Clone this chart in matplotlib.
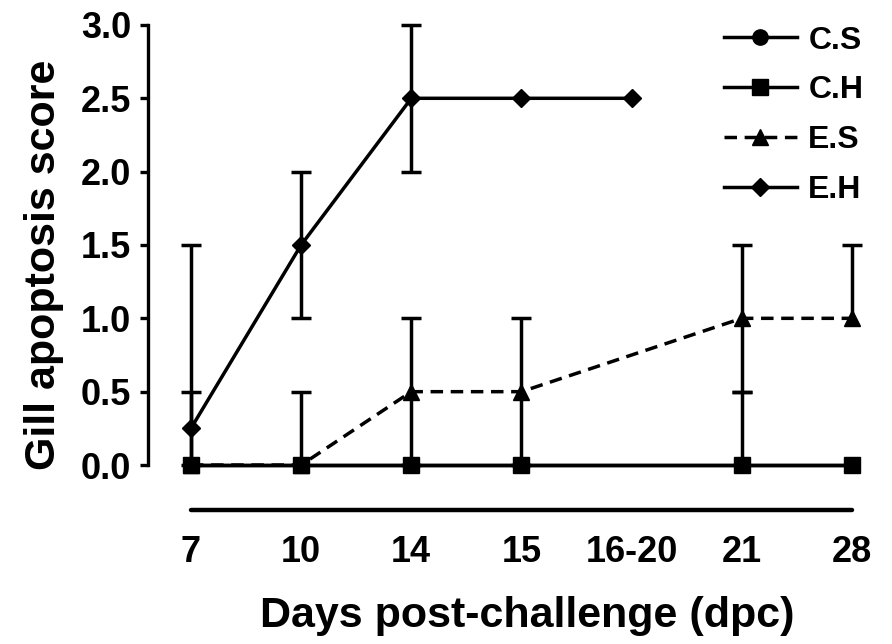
import numpy as np
import matplotlib
matplotlib.use("Agg")
import matplotlib.pyplot as plt

# categories on the x axis
days = ["7", "10", "14", "15", "16-20", "21", "28"]

# mean scores (nan = no point at that day)
cs_mean = [0, 0, 0, 0, np.nan, 0, 0]
ch_mean = [0, 0, 0, 0, np.nan, 0, 0]
es_mean = [0, 0, 0.5, 0.5, np.nan, 1.0, 1.0]
eh_mean = [0.25, 1.5, 2.5, 2.5, 2.5, np.nan, np.nan]

# error bars (lower, upper)
ch_lo = [0, 0, 0, 0, 0, 0, 0]
ch_up = [0, 0, 0, 0, 0, 0.5, 0]
es_lo = [0, 0, 0.5, 0.5, 0, 0.5, 0]
es_up = [0.5, 0.5, 0.5, 0.5, 0, 0.5, 0.5]
eh_lo = [0.25, 0.5, 0.5, 0, 0, 0, 0]
eh_up = [1.25, 0.5, 0.5, 0, 0, 0, 0]

plt.rcParams['font.family'] = ['Liberation Sans', 'DejaVu Sans']
plt.rcParams['font.weight'] = 'bold'

LW = 2.5


def draw(ax, x, y, lo, up, marker, ms, ls):
    y = np.asarray(y, dtype=float)
    m = ~np.isnan(y)
    line, = ax.plot(x[m], y[m], color='black', lw=LW, ls=ls, marker=marker,
                    ms=ms, mfc='black', mec='black', zorder=3)
    if lo is not None:
        lo = np.asarray(lo, dtype=float)
        up = np.asarray(up, dtype=float)
        k = m & ((lo > 0) | (up > 0))
        ax.errorbar(x[k], y[k], yerr=[lo[k], up[k]], fmt='none', ecolor='black',
                    elinewidth=LW, capsize=0, zorder=2)
        ku = m & (up > 0)
        kl = m & (lo > 0)
        ax.plot(x[ku], (y + up)[ku], ls='none', marker='_', ms=15, mew=LW,
                color='black', zorder=2)
        ax.plot(x[kl], (y - lo)[kl], ls='none', marker='_', ms=15, mew=LW,
                color='black', zorder=2)
    return line


fig = plt.figure(figsize=(8.92, 6.44), dpi=100)
ax = fig.add_axes([0.1659, 0.208, 0.8016, 0.761])
x = np.arange(len(days))

h_eh = draw(ax, x, eh_mean, eh_lo, eh_up, 'D', 9.5, '-')
h_es = draw(ax, x, es_mean, es_lo, es_up, '^', 11, (0, (3.6, 2.2)))
h_cs = draw(ax, x, cs_mean, None, None, 'o', 11, '-')
h_ch = draw(ax, x, ch_mean, ch_lo, ch_up, 's', 12, '-')

ax.set_xlim(-0.39, 6.1)
ax.set_ylim(-0.307, 3.034)

for s in ['top', 'right']:
    ax.spines[s].set_visible(False)
ax.spines['left'].set_bounds(0, 3)
ax.spines['left'].set_linewidth(2.4)
ax.spines['bottom'].set_bounds(0, 6)
ax.spines['bottom'].set_linewidth(3.2)
ax.spines['bottom'].set_capstyle('round')

ax.set_yticks([0, 0.5, 1.0, 1.5, 2.0, 2.5, 3.0])
ax.set_yticklabels(["0.0", "0.5", "1.0", "1.5", "2.0", "2.5", "3.0"])
ax.set_xticks(x)
ax.set_xticklabels(days)
ax.tick_params(axis='y', direction='out', length=6, width=2.4, pad=6, labelsize=26)
ax.tick_params(axis='x', length=0, pad=18, labelsize=26)

ax.set_xlabel("Days post-challenge (dpc)", fontsize=31, fontweight='bold')
ax.xaxis.set_label_coords(0.53, -0.175)
ax.set_ylabel("Gill apoptosis score", fontsize=31, fontweight='bold', labelpad=12)

leg = ax.legend([h_cs, h_ch, h_es, h_eh], ["C.S", "C.H", "E.S", "E.H"],
                loc='upper left', bbox_to_anchor=(0.797, 0.98),
                bbox_transform=fig.transFigure, frameon=False,
                fontsize=23, handlelength=2.3, handletextpad=0.35,
                labelspacing=0.62, borderaxespad=0)

fig.savefig("out.png", dpi=100)
